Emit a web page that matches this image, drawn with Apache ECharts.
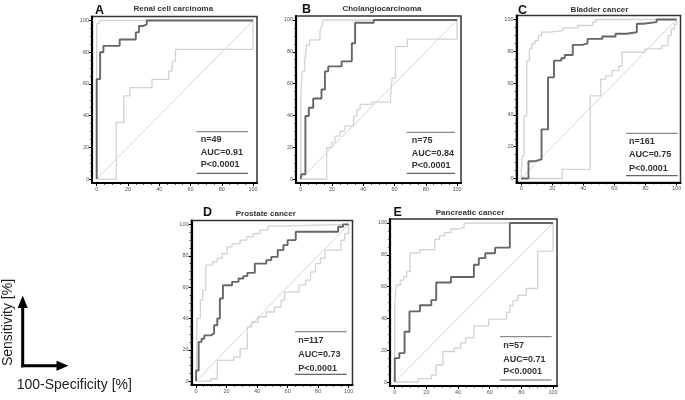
<!DOCTYPE html>
<html><head><meta charset="utf-8">
<script src="https://cdn.jsdelivr.net/npm/echarts@6/dist/echarts.min.js"></script>
<style>html,body{margin:0;padding:0;background:#fff}#c{width:685px;height:400px}</style>
</head><body><div id="c"></div>
<script>
// ---------- data ----------
const panelLetters = ['A', 'B', 'C', 'D', 'E'];
const panelTitles = ['Renal cell carcinoma', 'Cholangiocarcinoma', 'Bladder cancer', 'Prostate cancer', 'Pancreatic cancer'];
const nLabels = ['n=49', 'n=75', 'n=161', 'n=117', 'n=57'];
const aucLabels = ['AUC=0.91', 'AUC=0.84', 'AUC=0.75', 'AUC=0.73', 'AUC=0.71'];
const pLabels = ['P<0.0001', 'P<0.0001', 'P<0.0001', 'P<0.0001', 'P<0.0001'];
const majorTicks = [0, 20, 40, 60, 80, 100];
const minorTicks = [5, 10, 15, 25, 30, 35, 45, 50, 55, 65, 70, 75, 85, 90, 95];
const diagonal = [[0, 0], [100, 100]];

// ROC curves: [100-specificity, sensitivity] at each rise (step drawn horizontal then vertical)
const rocA = [[0,0],[0,63],[2.2,80],[4.3,84],[14.7,88],[25,92.5],[27,96.5],[29.5,97.5],[32,100],[100,100]];
const upperA = [[0,0],[0,98],[1.7,100],[100,100]];
const lowerA = [[0,0],[12.5,35.6],[17.3,52.4],[21.2,57.7],[35.3,62.9],[46.1,68.1],[48.3,74.4],[50.4,81.8],[100,100]];

const rocB = [[0,0],[0.4,3],[3,39.6],[5.2,44.8],[8,50.6],[13.3,56.3],[15.5,67.7],[17.6,70.8],[26.2,74],[32.7,85.4],[34.8,98.3],[46.7,100],[100,100]];
const upperB = [[0,0],[0,52],[1,67.7],[2.6,74],[3.7,84.4],[5.8,87.5],[12.3,92.7],[13.3,95.8],[14.4,100],[100,100]];
const lowerB = [[0,0],[16.6,19.8],[19.8,22.9],[21.9,27],[25.2,30.2],[28,33.3],[33.8,39.6],[36,43.8],[38,46.9],[45.6,48.3],[57.4,52],[58.5,63.5],[60.6,83.3],[68.2,87.9],[100,100]];

const rocC = [[0,0],[4.7,10.9],[8.9,12],[13.1,30.9],[17.3,63.6],[21.1,74.1],[25.8,75.6],[28,77.7],[33.2,84],[39.5,85],[42.7,87.8],[52.2,89.3],[60.7,91],[68,92],[74.4,97.3],[78.6,98.3],[87.1,100],[100,100]];
const upperC = [[0,0],[0.5,14],[1.9,39.4],[3.6,74.1],[5.3,81.5],[6.8,84.6],[8.9,86.7],[11,89.9],[13.1,92],[18.4,93],[26.8,94.7],[36.4,96.2],[45.9,98.3],[48,100],[100,100]];
const lowerC = [[0,0],[26.4,5.7],[44.4,52],[51.2,62.5],[54.3,64.6],[58.6,67.8],[62.8,70.9],[64.9,79.4],[79.7,81.5],[90.3,83.6],[94.5,89.9],[96.6,94],[98.7,97],[100,100]];

const rocD = [[0,0],[0,6.8],[1.7,25],[3.6,27],[5.4,29.2],[9.6,30.3],[11.8,35.6],[13.9,39.9],[15.6,52.7],[17.6,61.2],[23.6,63.3],[27.8,65.5],[31,67],[33.6,69.1],[38.5,75],[46,77.2],[49.3,79.3],[53.5,83.6],[57.2,86.8],[60,90],[65.3,95.3],[93.1,98.5],[96.3,100],[100,100]];
const upperD = [[0,0],[0.6,40],[2.8,51.6],[4.3,58],[6.4,74],[10.7,76.1],[13.9,78.3],[17.1,81.4],[20.3,85.7],[23.6,87.8],[28.9,90],[33.2,92.1],[37.5,94.2],[41.8,96.4],[47.1,98.9],[52.5,100],[100,100]];
const lowerD = [[0,0],[9.6,1.5],[13.9,13.2],[24.6,15.4],[28.9,20.7],[33.6,34.5],[36.4,37.7],[40.7,40.9],[46,44.1],[51.4,47.3],[55.7,51.6],[58,57],[67.5,61.2],[71.7,64.4],[75,69.7],[78.2,75],[81.4,78.3],[84.6,83.6],[94.9,89.9],[97.4,94.2],[100,100]];

const rocE = [[0,0],[0,15],[2.9,18.2],[6.2,31.6],[9.3,44.4],[15.9,48.3],[23.1,51.5],[26.2,62.6],[35.5,66],[50,73.7],[53.1,77.9],[57.2,81],[63.4,84.5],[72.7,100],[100,100]];
const upperE = [[0,0],[0,50],[1,61],[3.5,64.1],[5.6,66.2],[7.6,69.4],[9.7,81.2],[15.9,83.3],[25.2,89.7],[28.3,91.9],[31.4,94],[35.5,96.2],[39.7,97.2],[43.8,100],[100,100]];
const lowerE = [[0,0],[14.9,2.1],[23.1,4.3],[26.2,10.7],[30.4,19.2],[37.6,21.4],[41.7,24.6],[44.8,27.8],[50,35.3],[59.3,39.5],[70.7,43.8],[72.7,48.1],[74.8,51.3],[77.9,54.5],[83.1,58.8],[90.3,82.3],[100,100]];

const rocSets = [
  [rocA, upperA, lowerA],
  [rocB, upperB, lowerB],
  [rocC, upperC, lowerC],
  [rocD, upperD, lowerD],
  [rocE, upperE, lowerE]
];

// ---------- layout (pixels) ----------
const gridBoxes = [
  {left: 92, top: 16.5, width: 165, height: 166.5},
  {left: 296, top: 16, width: 165, height: 167},
  {left: 516.5, top: 15.5, width: 164, height: 167},
  {left: 191.5, top: 220.5, width: 161, height: 164.5},
  {left: 390, top: 219, width: 167, height: 167}
];
const titlePos = [[173.3, 8.3], [382, 8.3], [599.5, 10], [265.8, 214], [470, 212.7]];
const letterPos = [[95, 10.5], [302, 9.5], [518, 11], [203, 212.5], [393.5, 212.5]];
// annotation: [lineX1, lineX2, topLineY, textX, textY1, textY2, textY3, bottomLineY]
const annoPos = [
  [196.7, 248, 131.7, 200.7, 140, 152.3, 164.3, 173.3],
  [406.7, 455, 132.3, 411.7, 140.7, 153.3, 165.7, 173.3],
  [626, 677.7, 133.3, 629, 141.7, 155, 168.3, 175.7],
  [295, 346.7, 331.7, 298.3, 340.7, 355, 368.3, 374.3],
  [500, 551.7, 336.7, 503.3, 346, 359.3, 371.7, 380]
];

const FONT = "'Liberation Sans', Arial, sans-serif";
const X_MIN = -3, X_MAX = 102.5, Y_MIN = -2.5, Y_MAX = 102.5;

const grids = [], xAxes = [], yAxes = [], series = [], graphics = [];

gridBoxes.forEach((g, i) => {
  grids.push(Object.assign({show: true, borderColor: '#333', borderWidth: 1.5, backgroundColor: 'transparent'}, g));
  const mainAxisCommon = {
    type: 'value', gridIndex: i,
    axisLine: {show: true, onZero: false, lineStyle: {color: '#000', width: 2.2}},
    axisTick: {show: true, customValues: majorTicks, length: 3, lineStyle: {color: '#000', width: 1}},
    axisLabel: {show: true, customValues: majorTicks, fontSize: 5.5, color: '#555', fontFamily: FONT, margin: 3},
    splitLine: {show: false}
  };
  const minorAxisCommon = {
    type: 'value', gridIndex: i,
    axisLine: {show: false, onZero: false},
    axisTick: {show: true, customValues: minorTicks, length: 1.8, lineStyle: {color: '#000', width: 0.8}},
    axisLabel: {show: false},
    splitLine: {show: false}
  };
  xAxes.push(Object.assign({}, mainAxisCommon, {position: 'bottom', min: X_MIN, max: X_MAX}));
  xAxes.push(Object.assign({}, minorAxisCommon, {position: 'bottom', min: X_MIN, max: X_MAX}));
  yAxes.push(Object.assign({}, mainAxisCommon, {position: 'left', min: Y_MIN, max: Y_MAX}));
  yAxes.push(Object.assign({}, minorAxisCommon, {position: 'left', min: Y_MIN, max: Y_MAX}));

  const ax = {xAxisIndex: i * 2, yAxisIndex: i * 2};
  const [roc, upper, lower] = rocSets[i];
  series.push(Object.assign({type: 'line', data: diagonal, symbol: 'none', silent: true,
    lineStyle: {color: '#d4d4d4', width: 1}}, ax));
  series.push(Object.assign({type: 'line', data: lower, step: 'end', symbol: 'none', silent: true,
    lineStyle: {color: '#d2d2d2', width: 1.3}}, ax));
  series.push(Object.assign({type: 'line', data: upper, step: 'end', symbol: 'none', silent: true,
    lineStyle: {color: '#d2d2d2', width: 1.3}}, ax));
  series.push(Object.assign({type: 'line', data: roc, step: 'end', symbol: 'none', silent: true,
    lineStyle: {color: '#666', width: 1.9}}, ax));

  // titles & letters
  graphics.push({type: 'text', x: titlePos[i][0], y: titlePos[i][1], silent: true,
    style: {text: panelTitles[i], x: 0, y: 0, textAlign: 'center', textVerticalAlign: 'middle', verticalAlign: 'middle',
      font: 'bold 8px ' + FONT, fill: '#333'}});
  graphics.push({type: 'text', x: letterPos[i][0], y: letterPos[i][1], silent: true,
    style: {text: panelLetters[i], x: 0, y: 0, textAlign: 'left', textVerticalAlign: 'middle', verticalAlign: 'middle',
      font: 'bold 12.5px ' + FONT, fill: '#111'}});
  // annotation box
  const a = annoPos[i];
  graphics.push({type: 'line', silent: true, shape: {x1: a[0], y1: a[2], x2: a[1], y2: a[2]},
    style: {stroke: '#8a8a8a', lineWidth: 1.2}});
  graphics.push({type: 'line', silent: true, shape: {x1: a[0], y1: a[7], x2: a[1], y2: a[7]},
    style: {stroke: '#666', lineWidth: 1.2}});
  [nLabels[i], aucLabels[i], pLabels[i]].forEach((t, k) => {
    graphics.push({type: 'text', x: a[3], y: a[4 + k], silent: true,
      style: {text: t, x: 0, y: 0, textAlign: 'left', textVerticalAlign: 'middle', verticalAlign: 'middle',
        font: 'bold 9px ' + FONT, fill: '#333'}});
  });
});

// axes key (bottom-left)
graphics.push({type: 'line', silent: true, shape: {x1: 22.7, y1: 367.3, x2: 22.7, y2: 306}, style: {stroke: '#000', lineWidth: 3}});
graphics.push({type: 'polygon', silent: true, shape: {points: [[22.7, 295.5], [17.7, 308], [27.7, 308]]}, style: {fill: '#000'}});
graphics.push({type: 'line', silent: true, shape: {x1: 21.2, y1: 365.8, x2: 58, y2: 365.8}, style: {stroke: '#000', lineWidth: 3}});
graphics.push({type: 'polygon', silent: true, shape: {points: [[68.5, 365.8], [56.5, 360.8], [56.5, 370.8]]}, style: {fill: '#000'}});
graphics.push({type: 'text', x: 8, y: 322.5, rotation: Math.PI / 2, silent: true,
  style: {text: 'Sensitivity [%]', x: 0, y: 0, textAlign: 'center', textVerticalAlign: 'middle', verticalAlign: 'middle',
    font: '14px ' + FONT, fill: '#222'}});
graphics.push({type: 'text', x: 16.7, y: 385, silent: true,
  style: {text: '100-Specificity [%]', x: 0, y: 0, textAlign: 'left', textVerticalAlign: 'middle', verticalAlign: 'middle',
    font: '14px ' + FONT, fill: '#222'}});

const chart = echarts.init(document.getElementById('c'), null, {renderer: 'canvas'});
chart.setOption({
  animation: false,
  backgroundColor: '#fff',
  grid: grids,
  xAxis: xAxes,
  yAxis: yAxes,
  series: series,
  graphic: graphics
});
</script>
</body></html>
